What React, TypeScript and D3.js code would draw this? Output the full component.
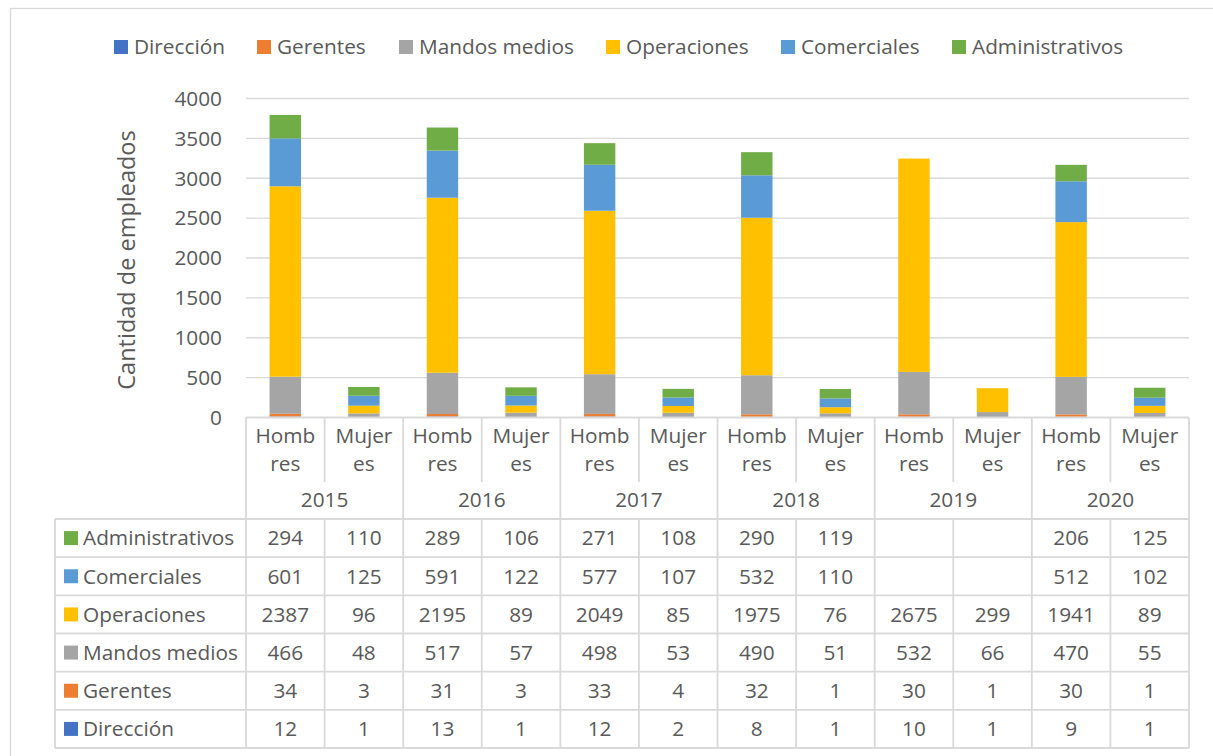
import React from "react";
import * as d3 from "d3";

const years = ["2015", "2016", "2017", "2018", "2019", "2020"];
const genders = ["Hombres", "Mujeres"];
const genderLines: Record<string, [string, string]> = { Hombres: ["Homb", "res"], Mujeres: ["Mujer", "es"] };

const seriesNames = ["Dirección", "Gerentes", "Mandos medios", "Operaciones", "Comerciales", "Administrativos"];
const seriesColors = ["#4472C4", "#ED7D31", "#A5A5A5", "#FFC000", "#5B9BD5", "#70AD47"];

const direccion = [12, 1, 13, 1, 12, 2, 8, 1, 10, 1, 9, 1];
const gerentes = [34, 3, 31, 3, 33, 4, 32, 1, 30, 1, 30, 1];
const mandosMedios = [466, 48, 517, 57, 498, 53, 490, 51, 532, 66, 470, 55];
const operaciones = [2387, 96, 2195, 89, 2049, 85, 1975, 76, 2675, 299, 1941, 89];
const comerciales: (number | null)[] = [601, 125, 591, 122, 577, 107, 532, 110, null, null, 512, 102];
const administrativos: (number | null)[] = [294, 110, 289, 106, 271, 108, 290, 119, null, null, 206, 125];

const yTicks = [0, 500, 1000, 1500, 2000, 2500, 3000, 3500, 4000];

const seriesValues: (number | null)[][] = [direccion, gerentes, mandosMedios, operaciones, comerciales, administrativos];

const W = 1213;
const H = 756;
const FONT = "'Open Sans', sans-serif";
const TXT = "#595959";
const LINE = "#D9D9D9";
const FS = 20.8;

export default function App() {
  const cats = years.flatMap((y) => genders.map((g) => `${y}|${g}`));
  const plotL = 246, plotR = 1189, plotT = 98.5, plotB = 417.5;
  const x = d3.scaleBand<string>().domain(cats).range([plotL, plotR]).paddingInner(0.6).paddingOuter(0.3);
  const step = x.step();
  const y = d3.scaleLinear().domain([0, 4000]).range([plotB, plotT]);

  const rows = cats.map((c, i) => {
    const r: Record<string, number | string> = { cat: c };
    seriesNames.forEach((s, k) => (r[s] = seriesValues[k][i] ?? 0));
    return r;
  });
  const stacked = d3.stack<Record<string, number | string>>().keys(seriesNames)(rows as any);

  const legendX = [114, 257, 399, 606, 781, 952];

  const tableTop = 519, tableBottom = 748, tableLeft = 55;
  const rowH = (tableBottom - tableTop) / 6;
  const tableOrder = [5, 4, 3, 2, 1, 0];

  const lines: JSX.Element[] = [];
  for (let i = 0; i <= 12; i++) {
    const xx = plotL + i * step;
    const isYear = i % 2 === 0;
    if (isYear) lines.push(<line key={`v${i}`} x1={xx} x2={xx} y1={plotB} y2={tableBottom} />);
    else {
      lines.push(<line key={`vh${i}`} x1={xx} x2={xx} y1={plotB} y2={482} />);
      lines.push(<line key={`vt${i}`} x1={xx} x2={xx} y1={tableTop} y2={tableBottom} />);
    }
  }
  lines.push(<line key="hx" x1={plotL} x2={plotR} y1={plotB} y2={plotB} />);
  for (let r = 0; r <= 6; r++) {
    const yy = tableTop + r * rowH;
    lines.push(<line key={`h${r}`} x1={tableLeft} x2={plotR} y1={yy} y2={yy} />);
  }
  lines.push(<line key="vl" x1={tableLeft} x2={tableLeft} y1={tableTop} y2={tableBottom} />);

  return (
    <svg width={W} height={H} style={{ position: "absolute", left: 0, top: 0 }} fontFamily={FONT}>
      <rect x={0} y={0} width={W} height={H} fill="#fff" />
      <rect x={10.5} y={8.5} width={W + 10} height={H + 10} fill="none" stroke={LINE} strokeWidth={1.3} />

      {seriesNames.map((s, k) => (
        <g key={s}>
          <rect x={legendX[k]} y={40} width={14} height={14} fill={seriesColors[k]} />
          <text x={legendX[k] + 20} y={47} dy="0.35em" fontSize={FS} fill={TXT}>{s}</text>
        </g>
      ))}

      {yTicks.filter((t) => t > 0).map((t) => (
        <line key={t} x1={plotL} x2={plotR} y1={y(t)} y2={y(t)} stroke={LINE} strokeWidth={1.3} />
      ))}
      {yTicks.map((t) => (
        <text key={`t${t}`} x={222} y={y(t)} dy="0.35em" textAnchor="end" fontSize={FS} fill={TXT}>{t}</text>
      ))}
      <text transform={`translate(135,${(plotT + plotB) / 2 + 2}) rotate(-90)`} textAnchor="middle" fontSize={23.5} fill={TXT}>
        Cantidad de empleados
      </text>

      {stacked.map((layer, k) => (
        <g key={layer.key} fill={seriesColors[k]}>
          {layer.map((d, i) => {
            const h = y(d[0]) - y(d[1]);
            if (h <= 0) return null;
            return <rect key={i} x={x(cats[i])} y={y(d[1])} width={x.bandwidth()} height={h} />;
          })}
        </g>
      ))}

      <g stroke={LINE} strokeWidth={1.8}>{lines}</g>

      {cats.map((c, i) => {
        const [, g] = c.split("|");
        const cx = plotL + (i + 0.5) * step;
        return (
          <g key={c}>
            <text x={cx} y={436} dy="0.35em" textAnchor="middle" fontSize={FS} fill={TXT}>{genderLines[g][0]}</text>
            <text x={cx} y={464} dy="0.35em" textAnchor="middle" fontSize={FS} fill={TXT}>{genderLines[g][1]}</text>
          </g>
        );
      })}
      {years.map((yr, j) => (
        <text key={yr} x={plotL + (j * 2 + 1) * step} y={500} dy="0.35em" textAnchor="middle" fontSize={FS} fill={TXT}>{yr}</text>
      ))}

      {tableOrder.map((k, r) => {
        const cy = tableTop + (r + 0.5) * rowH;
        return (
          <g key={seriesNames[k]}>
            <rect x={64} y={cy - 7} width={14} height={14} fill={seriesColors[k]} />
            <text x={83} y={cy} dy="0.35em" fontSize={FS} fill={TXT}>{seriesNames[k]}</text>
            {seriesValues[k].map((v, i) =>
              v == null ? null : (
                <text key={i} x={plotL + (i + 0.5) * step} y={cy} dy="0.35em" textAnchor="middle" fontSize={FS} fill={TXT}>{v}</text>
              )
            )}
          </g>
        );
      })}
    </svg>
  );
}
